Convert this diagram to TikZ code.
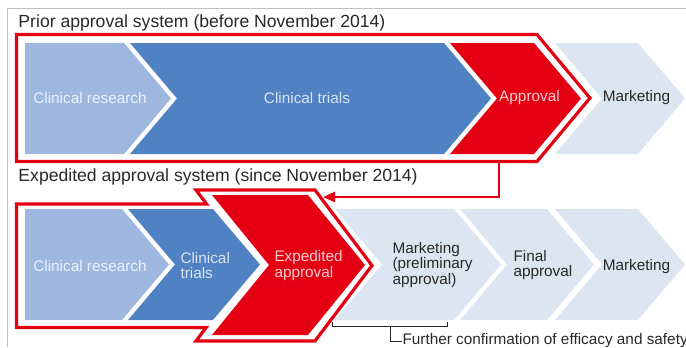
\documentclass[tikz,border=0pt]{standalone}
\usepackage{fontspec}
\setmainfont{Liberation Sans}
\usetikzlibrary{arrows.meta}

\definecolor{cresearch}{RGB}{157,183,222}
\definecolor{ctrials}{RGB}{80,130,195}
\definecolor{apred}{RGB}{228,0,18}
\definecolor{mkpale}{RGB}{220,230,243}
\definecolor{framegray}{RGB}{192,192,192}
\definecolor{txtdark}{RGB}{40,40,40}

\tikzset{every picture/.style={line width=0.75pt}}
\tikzset{
  chevlight/.style={fill=cresearch,draw=none},
  chevblue/.style={fill=ctrials,draw=none},
  chevred/.style={fill=apred,draw=none},
  chevpale/.style={fill=mkpale,draw=none},
  redframe/.style={draw=apred,line width=2.4pt,line join=miter},
  lbl/.style={inner sep=0.75pt,align=left,font=\fontsize{11.5}{11.7}\selectfont},
  ttl/.style={inner sep=0pt,anchor=base west,text=txtdark,font=\fontsize{13.2}{15}\selectfont},
}

\begin{document}
\begin{tikzpicture}[x=0.75pt,y=0.75pt,yscale=-1,xscale=1]
    \useasboundingbox (0,0) rectangle (686,347); %set diagram at 686 x 347

    %Shape: Frame lines
    \draw [color=framegray,line width=1.1pt] (7.5,347) -- (7.5,8.5) -- (686,8.5) ;

    % Text Node
    \draw (18,27) node [ttl] (priortitle) {Prior approval system (before November 2014)};

    %Shape: Chevrons, prior system
    \fill [chevlight] (25,43) -- (124,43) -- (171,98.5) -- (124,154) -- (25,154) -- cycle ;
    \fill [chevblue] (130,43) -- (444,43) -- (491,98.5) -- (444,154) -- (130,154) -- (177,98.5) -- cycle ;
    \fill [chevred] (450,43) -- (534,43) -- (581,98.5) -- (534,154) -- (450,154) -- (497,98.5) -- cycle ;
    \fill [chevpale] (555,43) -- (638,43) -- (685,98.5) -- (638,154) -- (555,154) -- (602,98.5) -- cycle ;
    %Shape: Red outline, prior system
    \draw [redframe] (16.5,34.5) -- (537,34.5) -- (590,98) -- (537,161.5) -- (16.5,161.5) -- cycle ;

    % Text Node
    \draw (90,98) node [lbl,text=white!82!cresearch] (priorres) {Clinical research};
    % Text Node
    \draw (307,98) node [lbl,text=white!78!ctrials] (priortri) {Clinical trials};
    % Text Node
    \draw (529.5,98) node [lbl,text=white!80!apred] (priorapp) {Approval};
    % Text Node
    \draw (636.5,98) node [lbl,text=txtdark] (priormkt) {Marketing};

    % Text Node
    \draw (18,181) node [ttl] (expttl) {Expedited approval system (since November 2014)};

    %Shape: Chevrons, expedited system
    \fill [chevlight] (25,209) -- (122,209) -- (169,264.5) -- (122,320) -- (25,320) -- cycle ;
    \fill [chevblue] (128,209) -- (213,209) -- (260,264.5) -- (213,320) -- (128,320) -- (175,264.5) -- cycle ;
    \fill [chevred] (212,195) -- (308,195) -- (365,265) -- (308,335) -- (212,335) -- (269,265) -- cycle ;
    \fill [chevpale] (335,209) -- (454,209) -- (501,264.5) -- (454,320) -- (335,320) -- (382,264.5) -- cycle ;
    \fill [chevpale] (460,209) -- (547,209) -- (594,264.5) -- (547,320) -- (460,320) -- (507,264.5) -- cycle ;
    \fill [chevpale] (555,209) -- (638,209) -- (685,264.5) -- (638,320) -- (555,320) -- (602,264.5) -- cycle ;
    %Shape: Red outline, expedited system
    \draw [redframe] (16.5,204) -- (206.6,204) -- (196,190) -- (315,190) -- (372,265.5) -- (315,341) -- (196,341) -- (206.2,327.5) -- (16.5,327.5) -- cycle ;

    % Text Node
    \draw (90,266) node [lbl,text=white!82!cresearch] (expres) {Clinical research};
    % Text Node
    \draw (179,265.5) node [lbl,anchor=west,text=white!78!ctrials] (exptri) {Clinical\\trials};
    % Text Node
    \draw (273,265.5) node [lbl,anchor=west,text=white!80!apred] (expapp) {Expedited\\approval};
    % Text Node
    \draw (391,265) node [lbl,anchor=west,text=txtdark] (prelim) {Marketing\\(preliminary\\approval)};
    % Text Node
    \draw (512,265) node [lbl,anchor=west,text=txtdark] (finalapp) {Final\\approval};
    % Text Node
    \draw (636.5,267) node [lbl,text=txtdark] (expmkt) {Marketing};

    %Straight Lines: from prior outline to expedited outline
    \coordinate (priorout) at (499,162.5);
    \coordinate (expout) at (323,197);
    \draw [color=apred,line width=1.9pt,-{Triangle[length=9pt,width=7.5pt]}] (priorout) |- (expout) ;

    %Straight Lines: bracket under preliminary approval
    \coordinate (brackl) at (332,322);
    \coordinate (brackr) at (447,322);
    \coordinate (brackm) at (390,326);
    \draw [color=txtdark] (brackl) -- ++(0,4) -| (brackr) ;

    % Text Node
    \draw (402,341) node [lbl,anchor=west,inner sep=0pt,text=txtdark] (confirm) {Further confirmation of efficacy and safety};
    \draw [color=txtdark] (brackm) |- (confirm.west) ;

  \end{tikzpicture}
\end{document}
